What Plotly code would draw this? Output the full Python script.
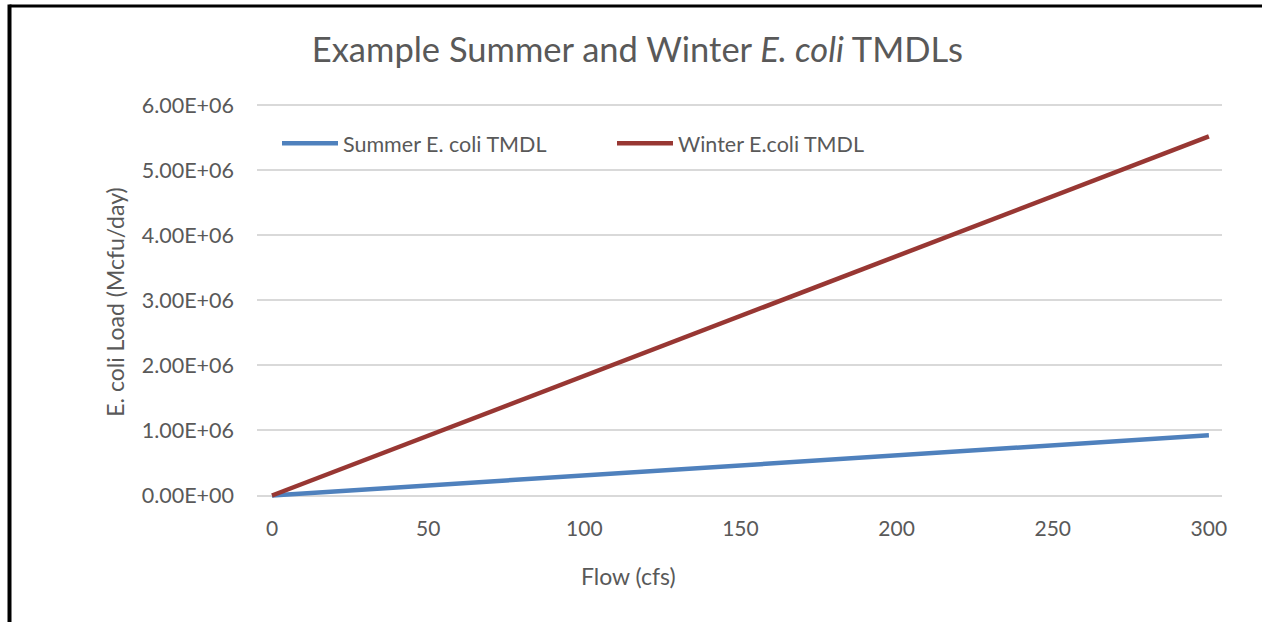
import plotly.graph_objects as go

# Flow (cfs) and E. coli load (Mcfu/day) for the two seasonal TMDL curves
flow = [0, 20, 40, 60, 80, 100, 120, 140, 160, 180, 200, 220, 240, 260, 280, 300]
summer_load = [0, 6.2e4, 1.23e5, 1.85e5, 2.47e5, 3.08e5, 3.70e5, 4.31e5, 4.93e5,
               5.55e5, 6.16e5, 6.78e5, 7.40e5, 8.01e5, 8.63e5, 9.25e5]
winter_load = [0, 3.68e5, 7.36e5, 1.10e6, 1.47e6, 1.84e6, 2.21e6, 2.58e6, 2.94e6,
               3.31e6, 3.68e6, 4.05e6, 4.42e6, 4.78e6, 5.15e6, 5.52e6]

y_tickvals = [0, 1e6, 2e6, 3e6, 4e6, 5e6, 6e6]
y_ticktext = ["0.00E+00", "1.00E+06", "2.00E+06", "3.00E+06", "4.00E+06", "5.00E+06", "6.00E+06"]
x_tickvals = [0, 50, 100, 150, 200, 250, 300]

W, H = 1262, 622
ML, MR, MT, MB = 257, 40, 101.7, 119.5
FONT = "Lato"
GREY = "#595959"

def px_x(p):
    return (p - ML) / (W - ML - MR)

def px_y(p):
    return (H - MB - p) / (H - MT - MB)

fig = go.Figure()
fig.add_trace(go.Scatter(x=flow, y=summer_load, mode="lines", name="Summer E. coli TMDL",
                         line=dict(color="#4F81BD", width=4.5)))
fig.add_trace(go.Scatter(x=flow, y=winter_load, mode="lines", name="Winter E.coli TMDL",
                         line=dict(color="#983733", width=4.5)))

fig.update_layout(
    width=W, height=H,
    margin=dict(l=ML, r=MR, t=MT, b=MB),
    paper_bgcolor="white", plot_bgcolor="white",
    font=dict(family=FONT, color=GREY, size=21),
    title=dict(text="Example Summer and Winter <i>E. coli</i> TMDLs",
               x=0.505, xanchor="center", y=1 - 50 / H, yanchor="middle",
               font=dict(family=FONT, size=34.5, color=GREY)),
    showlegend=True,
    legend=dict(orientation="h", x=px_x(277), y=px_y(143), xanchor="left", yanchor="middle",
                entrywidth=264, entrywidthmode="pixels", itemwidth=56,
                font=dict(family=FONT, size=21.5, color=GREY), bgcolor="rgba(0,0,0,0)"),
    xaxis=dict(range=[-4.8, 304.2], tickvals=x_tickvals, showgrid=False, zeroline=False,
               showline=False, ticks="", ticklabelstandoff=12,
               tickfont=dict(size=21, color=GREY)),
    yaxis=dict(range=[-0.1e6, 6.05e6], tickvals=y_tickvals, ticktext=y_ticktext,
               showgrid=True, gridcolor="#D9D9D9", gridwidth=1.5, zeroline=False,
               showline=False, ticks="", ticklabelstandoff=22,
               tickfont=dict(size=21.5, color=GREY),
               title=dict(text="E. coli Load (Mcfu/day)", font=dict(size=23, color=GREY),
                          standoff=10)),
    annotations=[
        dict(text="Flow (cfs)", xref="paper", yref="paper", x=px_x(628), y=px_y(577),
             xanchor="center", yanchor="middle", showarrow=False,
             font=dict(family=FONT, size=23, color=GREY)),
    ],
    shapes=[
        dict(type="line", xref="paper", yref="paper", x0=px_x(9.5), x1=px_x(W + 5),
             y0=px_y(5.5), y1=px_y(5.5), line=dict(color="black", width=3)),
        dict(type="line", xref="paper", yref="paper", x0=px_x(9.5), x1=px_x(9.5),
             y0=px_y(4), y1=px_y(H + 5), line=dict(color="black", width=4)),
    ],
)

fig.write_html("out.html")
